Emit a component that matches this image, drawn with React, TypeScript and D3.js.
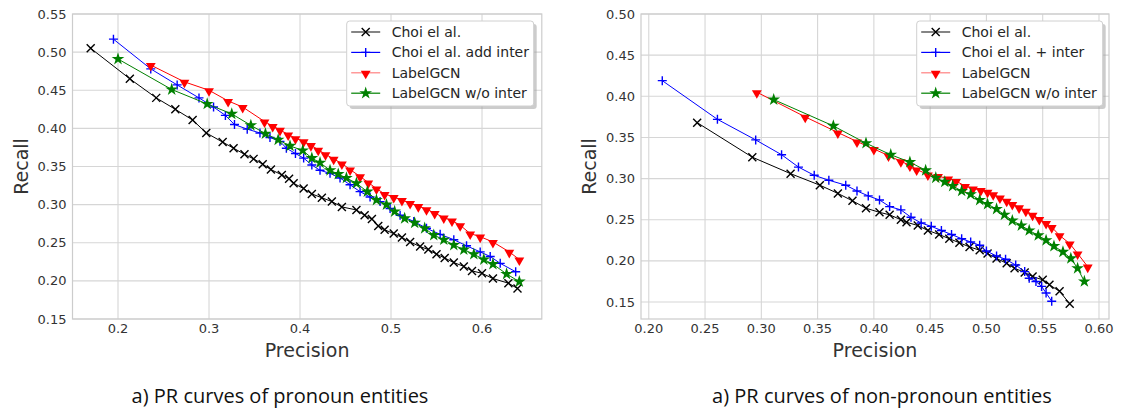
import * as d3 from "d3";

type Pt = [number, number];

// a) pronoun entities — [precision, recall]
const pronounChoi: Pt[] = [
  [0.170, 0.505], [0.213, 0.465], [0.242, 0.440], [0.263, 0.425], [0.282, 0.411], [0.297, 0.394],
  [0.315, 0.382], [0.327, 0.374], [0.339, 0.366], [0.349, 0.360], [0.359, 0.353], [0.368, 0.346],
  [0.380, 0.339], [0.388, 0.334], [0.393, 0.328], [0.404, 0.321], [0.413, 0.314], [0.424, 0.309],
  [0.435, 0.304], [0.446, 0.297], [0.462, 0.293], [0.471, 0.286], [0.479, 0.281], [0.486, 0.272],
  [0.493, 0.267], [0.503, 0.262], [0.512, 0.257], [0.521, 0.251], [0.532, 0.245], [0.541, 0.241],
  [0.550, 0.235], [0.559, 0.230], [0.569, 0.224], [0.580, 0.219], [0.589, 0.213], [0.600, 0.210],
  [0.612, 0.203], [0.629, 0.197], [0.639, 0.190],
];
const pronounChoiInter: Pt[] = [
  [0.195, 0.517], [0.236, 0.478], [0.265, 0.457], [0.289, 0.440], [0.305, 0.428], [0.318, 0.417],
  [0.328, 0.405], [0.342, 0.399], [0.356, 0.394], [0.367, 0.388], [0.378, 0.383], [0.385, 0.374],
  [0.395, 0.367], [0.404, 0.361], [0.413, 0.352], [0.422, 0.345], [0.433, 0.341], [0.444, 0.335],
  [0.455, 0.326], [0.466, 0.317], [0.477, 0.310], [0.488, 0.304], [0.499, 0.295], [0.510, 0.286],
  [0.525, 0.278], [0.539, 0.269], [0.554, 0.261], [0.569, 0.254], [0.583, 0.246], [0.598, 0.238],
  [0.609, 0.232], [0.620, 0.223], [0.637, 0.212],
];
const pronounLabelGCN: Pt[] = [
  [0.236, 0.483], [0.273, 0.461], [0.300, 0.450], [0.321, 0.436], [0.337, 0.428], [0.361, 0.409],
  [0.370, 0.403], [0.378, 0.398], [0.387, 0.392], [0.395, 0.387], [0.404, 0.383], [0.412, 0.378],
  [0.420, 0.372], [0.428, 0.366], [0.437, 0.360], [0.446, 0.354], [0.455, 0.346], [0.466, 0.337],
  [0.475, 0.329], [0.484, 0.321], [0.493, 0.314], [0.503, 0.310], [0.512, 0.306], [0.521, 0.302],
  [0.530, 0.298], [0.539, 0.294], [0.548, 0.289], [0.558, 0.283], [0.567, 0.279], [0.576, 0.273],
  [0.587, 0.262], [0.598, 0.258], [0.612, 0.251], [0.630, 0.238], [0.641, 0.228],
];
const pronounNoInter: Pt[] = [
  [0.200, 0.491], [0.259, 0.451], [0.298, 0.432], [0.325, 0.419], [0.346, 0.404], [0.362, 0.393],
  [0.376, 0.385], [0.389, 0.377], [0.403, 0.371], [0.413, 0.361], [0.422, 0.355], [0.433, 0.345],
  [0.442, 0.340], [0.451, 0.335], [0.462, 0.328], [0.474, 0.317], [0.484, 0.306], [0.495, 0.300],
  [0.504, 0.291], [0.515, 0.282], [0.526, 0.276], [0.537, 0.269], [0.547, 0.260], [0.558, 0.254],
  [0.569, 0.247], [0.580, 0.241], [0.591, 0.235], [0.602, 0.228], [0.612, 0.222], [0.627, 0.209],
  [0.641, 0.199],
];

// b) non-pronoun entities
const nonPronounChoi: Pt[] = [
  [0.243, 0.368], [0.292, 0.326], [0.326, 0.306], [0.352, 0.292], [0.368, 0.282], [0.381, 0.273],
  [0.393, 0.264], [0.405, 0.259], [0.414, 0.256], [0.424, 0.250], [0.429, 0.247], [0.439, 0.243],
  [0.448, 0.237], [0.458, 0.232], [0.467, 0.227], [0.476, 0.222], [0.485, 0.217], [0.494, 0.213],
  [0.501, 0.209], [0.509, 0.203], [0.518, 0.197], [0.525, 0.191], [0.534, 0.186], [0.541, 0.181],
  [0.550, 0.177], [0.556, 0.171], [0.565, 0.163], [0.574, 0.148],
];
const nonPronounChoiInter: Pt[] = [
  [0.212, 0.419], [0.261, 0.372], [0.295, 0.347], [0.318, 0.329], [0.333, 0.314], [0.347, 0.304],
  [0.360, 0.298], [0.375, 0.292], [0.385, 0.285], [0.395, 0.279], [0.405, 0.274], [0.414, 0.266],
  [0.424, 0.262], [0.433, 0.253], [0.442, 0.246], [0.451, 0.242], [0.460, 0.237], [0.469, 0.232],
  [0.478, 0.227], [0.486, 0.223], [0.494, 0.219], [0.500, 0.212], [0.509, 0.206], [0.517, 0.202],
  [0.526, 0.195], [0.534, 0.187], [0.538, 0.179], [0.544, 0.175], [0.549, 0.169], [0.553, 0.161],
  [0.558, 0.151],
];
const nonPronounLabelGCN: Pt[] = [
  [0.296, 0.405], [0.339, 0.375], [0.368, 0.356], [0.385, 0.345], [0.400, 0.336], [0.413, 0.328],
  [0.424, 0.321], [0.432, 0.316], [0.438, 0.311], [0.448, 0.305], [0.457, 0.303], [0.466, 0.300],
  [0.473, 0.297], [0.481, 0.291], [0.488, 0.288], [0.495, 0.286], [0.501, 0.284], [0.506, 0.281],
  [0.512, 0.277], [0.518, 0.273], [0.523, 0.269], [0.529, 0.265], [0.535, 0.261], [0.541, 0.256],
  [0.547, 0.251], [0.553, 0.246], [0.558, 0.241], [0.565, 0.231], [0.574, 0.221], [0.581, 0.209],
  [0.590, 0.193],
];
const nonPronounNoInter: Pt[] = [
  [0.311, 0.396], [0.364, 0.364], [0.393, 0.343], [0.415, 0.329], [0.432, 0.320], [0.446, 0.310],
  [0.455, 0.301], [0.463, 0.296], [0.470, 0.291], [0.478, 0.285], [0.486, 0.281], [0.494, 0.274],
  [0.501, 0.269], [0.509, 0.263], [0.516, 0.256], [0.523, 0.249], [0.531, 0.243], [0.538, 0.237],
  [0.546, 0.231], [0.553, 0.225], [0.560, 0.218], [0.568, 0.211], [0.575, 0.203], [0.581, 0.191],
  [0.587, 0.175],
];

const pronounXTicks = [0.2, 0.3, 0.4, 0.5, 0.6];
const pronounYTicks = [0.15, 0.2, 0.25, 0.3, 0.35, 0.4, 0.45, 0.5, 0.55];
const nonPronounXTicks = [0.2, 0.25, 0.3, 0.35, 0.4, 0.45, 0.5, 0.55, 0.6];
const nonPronounYTicks = [0.15, 0.2, 0.25, 0.3, 0.35, 0.4, 0.45, 0.5];

const pronounLabels = ["Choi el al.", "Choi el al. add inter", "LabelGCN", "LabelGCN w/o inter"];
const nonPronounLabels = ["Choi el al.", "Choi el al. + inter", "LabelGCN", "LabelGCN w/o inter"];
const captions = ["a) PR curves of pronoun entities", "a) PR curves of non-pronoun entities"];

type Marker = "x" | "plus" | "tri" | "star";
const styles: { color: string; legendLine: string; marker: Marker }[] = [
  { color: "#000000", legendLine: "#333333", marker: "x" },
  { color: "#0000ff", legendLine: "#0000ff", marker: "plus" },
  { color: "#ff0000", legendLine: "#ff8080", marker: "tri" },
  { color: "#008000", legendLine: "#008000", marker: "star" },
];

const triPath = d3.symbol(d3.symbolTriangle, 42)() ?? "";
const starPath = d3.symbol(d3.symbolStar, 50)() ?? "";

function MarkerShape({ kind, color, x, y }: { kind: Marker; color: string; x: number; y: number }) {
  if (kind === "x") {
    const r = 4;
    return (
      <path d={`M${x - r},${y - r}L${x + r},${y + r}M${x - r},${y + r}L${x + r},${y - r}`} stroke={color} strokeWidth={1.4} />
    );
  }
  if (kind === "plus") {
    const r = 4.5;
    return <path d={`M${x - r},${y}H${x + r}M${x},${y - r}V${y + r}`} stroke={color} strokeWidth={1.4} />;
  }
  if (kind === "tri") {
    return <path d={triPath} transform={`translate(${x},${y + 0.8}) rotate(180)`} fill={color} />;
  }
  return <path d={starPath} transform={`translate(${x},${y})`} fill={color} />;
}

type PanelProps = {
  series: Pt[][];
  labels: string[];
  xDomain: [number, number];
  yDomain: [number, number];
  left: number;
  right: number;
  xTicks: number[];
  yTicks: number[];
  xFormat: string;
  legendX: number;
  legendW: number;
  ylabelX: number;
  caption: string;
  captionX: number;
};

const top = 14;
const bottom = 319;

function Panel(p: PanelProps) {
  const x = d3.scaleLinear().domain(p.xDomain).range([p.left, p.right]);
  const y = d3.scaleLinear().domain(p.yDomain).range([bottom, top]);
  const line = d3.line<Pt>().x((d) => x(d[0])).y((d) => y(d[1]));
  const fx = d3.format(p.xFormat);
  const fy = d3.format(".2f");
  const midX = (p.left + p.right) / 2;
  const legY = 21;
  return (
    <g>
      {p.xTicks.map((t) => (
        <line key={`gx${t}`} x1={x(t)} x2={x(t)} y1={top} y2={bottom} stroke="#d6d6d6" strokeWidth={1.1} />
      ))}
      {p.yTicks.map((t) => (
        <line key={`gy${t}`} x1={p.left} x2={p.right} y1={y(t)} y2={y(t)} stroke="#d6d6d6" strokeWidth={1.1} />
      ))}
      <rect x={p.left} y={top} width={p.right - p.left} height={bottom - top} fill="none" stroke="#cccccc" strokeWidth={1.2} />
      {p.xTicks.map((t) => (
        <text key={`tx${t}`} x={x(t)} y={333} textAnchor="middle" fontSize={13} fill="#333">
          {fx(t)}
        </text>
      ))}
      {p.yTicks.map((t) => (
        <text key={`ty${t}`} x={p.left - 6} y={y(t) + 4.6} textAnchor="end" fontSize={13} fill="#333">
          {fy(t)}
        </text>
      ))}
      <text x={midX} y={357} textAnchor="middle" fontSize={19} fill="#333">
        Precision
      </text>
      <text transform={`translate(${p.ylabelX},166.5) rotate(-90)`} textAnchor="middle" fontSize={19} fill="#333">
        Recall
      </text>
      {p.series.map((s, i) => (
        <g key={`s${i}`}>
          <path d={line(s) ?? ""} fill="none" stroke={styles[i].color} strokeWidth={1} />
          {s.map((d, j) => (
            <MarkerShape key={j} kind={styles[i].marker} color={styles[i].color} x={x(d[0])} y={y(d[1])} />
          ))}
        </g>
      ))}
      <rect x={p.legendX + 3} y={legY + 3} width={p.legendW} height={85} rx={3} fill="#999" opacity={0.5} />
      <rect x={p.legendX} y={legY} width={p.legendW} height={85} rx={3} fill="#fff" stroke="#d0d0d0" />
      {p.labels.map((lab, i) => {
        const ly = legY + 11 + i * 20.4;
        return (
          <g key={lab}>
            <line x1={p.legendX + 4.5} x2={p.legendX + 33.5} y1={ly} y2={ly} stroke={styles[i].legendLine} strokeWidth={1.2} />
            <MarkerShape kind={styles[i].marker} color={styles[i].color} x={p.legendX + 19} y={ly} />
            <text x={p.legendX + 45} y={ly + 5} fontSize={14} fill="#262626">
              {lab}
            </text>
          </g>
        );
      })}
      <text x={p.captionX} y={403} textAnchor="middle" fontSize={20} fontFamily="'Open Sans', sans-serif" fill="#111">
        {p.caption}
      </text>
    </g>
  );
}

export default function App() {
  return (
    <div style={{ position: "absolute", left: 0, top: 0 }}>
      <svg width={1121} height={412} style={{ display: "block", background: "#fff" }} fontFamily="'DejaVu Sans', sans-serif">
        <Panel
          series={[pronounChoi, pronounChoiInter, pronounLabelGCN, pronounNoInter]}
          labels={pronounLabels}
          xDomain={[0.15, 0.6657]}
          yDomain={[0.15, 0.55]}
          left={72.5}
          right={541.8}
          xTicks={pronounXTicks}
          yTicks={pronounYTicks}
          xFormat=".1f"
          legendX={346.7}
          legendW={187}
          ylabelX={28}
          caption={captions[0]}
          captionX={280}
        />
        <Panel
          series={[nonPronounChoi, nonPronounChoiInter, nonPronounLabelGCN, nonPronounNoInter]}
          labels={nonPronounLabels}
          xDomain={[0.1931, 0.6089]}
          yDomain={[0.1294, 0.5]}
          left={641}
          right={1109}
          xTicks={nonPronounXTicks}
          yTicks={nonPronounYTicks}
          xFormat=".2f"
          legendX={916.7}
          legendW={186}
          ylabelX={596}
          caption={captions[1]}
          captionX={882}
        />
      </svg>
    </div>
  );
}
